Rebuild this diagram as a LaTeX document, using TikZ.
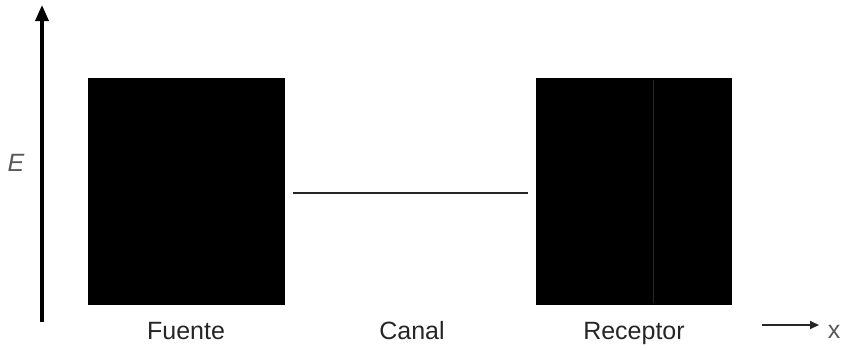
\documentclass[tikz,border=0pt]{standalone}
\usepackage{fontspec}
\setmainfont{Liberation Sans}
\usetikzlibrary{arrows.meta}
\begin{document}
\begin{tikzpicture}[x=1pt,y=-1pt,
  blockbox/.style={fill=black,draw=none},
  lbl/.style={font=\fontsize{25}{29}\selectfont,text=black!85,inner sep=0pt,anchor=base}]
\useasboundingbox (0,0) rectangle (843,349);
% axis
\coordinate (ab) at (42,322);
\coordinate (at) at (42,5);
\draw[line width=3.5pt,-{Triangle[length=16pt,width=13pt]}] (ab) -- (at);
\node[lbl,font=\fontsize{25}{29}\selectfont\itshape,text=black!65,anchor=center] (E) at (16,163) {E};
% blocks
\path[blockbox] (88,78) rectangle (285,305);
\node[inner sep=0pt,minimum width=197pt,minimum height=227pt] (src) at (186.5,191.5) {};
\path[blockbox] (536,78) rectangle (732,305);
\node[inner sep=0pt,minimum width=196pt,minimum height=227pt] (rcv) at (634,191.5) {};
\draw[black!85,line width=0.5pt] (653,80) -- (653,303);
% channel line
\coordinate (c1) at (293,193);
\coordinate (c2) at (528,193);
\draw[line width=1.8pt,black!85] (c1) -- (c2);
% labels
\node[lbl] (fuente) at (186,339) {Fuente};
\node[lbl] (canal) at (412,339) {Canal};
\node[lbl] (receptor) at (634,339) {Receptor};
% x arrow
\coordinate (xa) at (762,325);
\coordinate (xb) at (819,325);
\draw[line width=1.8pt,black!85,-{Triangle[length=9pt,width=8pt]}] (xa) -- (xb);
\node[lbl,text=black!65,anchor=center] (xl) at (834,332) {x};
\end{tikzpicture}
\end{document}
